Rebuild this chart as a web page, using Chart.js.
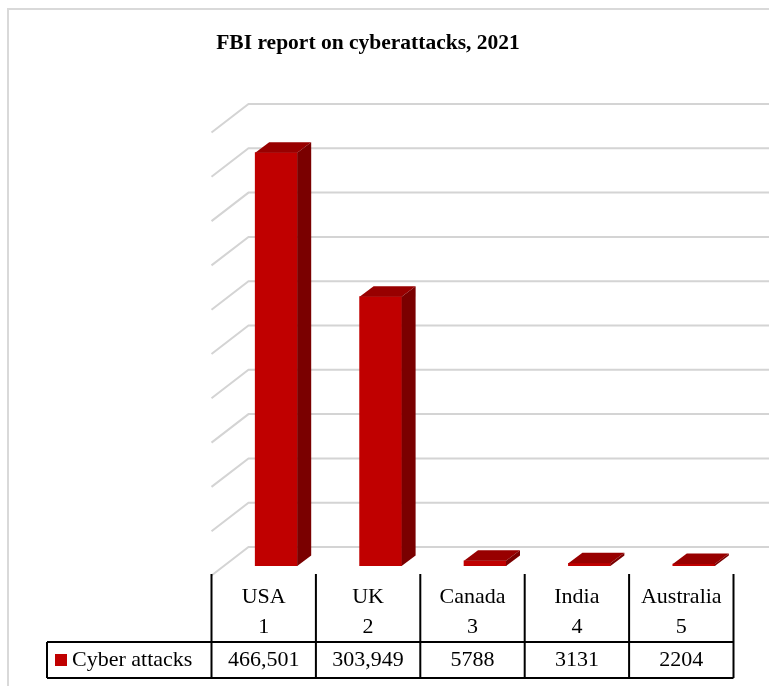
<!DOCTYPE html>
<html lang="en">
<head>
  <meta charset="UTF-8">
  <title>FBI report on cyberattacks, 2021</title>
  <script src="https://cdn.jsdelivr.net/npm/chart.js"></script>
  <style>
    body {
      margin: 0;
      background: #ffffff;
    }
    #chart {
      display: block;
    }
  </style>
</head>
<body>
  <canvas id="chart" width="769" height="686"></canvas>

  <script>
    // Data
    const categories = ['USA', 'UK', 'Canada', 'India', 'Australia'];
    const ranks = ['1', '2', '3', '4', '5'];
    const attacks = [466501, 303949, 5788, 3131, 2204];
    const tableValues = ['466,501', '303,949', '5788', '3131', '2204'];
    const seriesName = 'Cyber attacks';
    const chartTitle = 'FBI report on cyberattacks, 2021';

    // Look of the fake 3D
    const FRONT = '#C00000';
    const TOP = '#980000';
    const SIDE = '#7A0000';
    const BAR_DX = 14, BAR_DY = 10.5;      // bar depth
    const FRONT_DX = -12.5, FRONT_DY = 9.5; // front plane, relative to bar faces
    const BACK_DX = 24.5, BACK_DY = -19;    // back wall, relative to bar faces
    const FONT = '"Liberation Serif", "Times New Roman", serif';

    const depthPlugin = {
      id: 'depth3d',
      beforeDraw(chart) {
        const ctx = chart.ctx;
        ctx.save();
        ctx.strokeStyle = '#d9d9d9';
        ctx.lineWidth = 2;
        ctx.beginPath();
        ctx.moveTo(8, 686);
        ctx.lineTo(8, 9);
        ctx.lineTo(769, 9);
        ctx.stroke();
        ctx.restore();
      },
      beforeDatasetsDraw(chart) {
        const { ctx, chartArea, scales: { y } } = chart;
        ctx.save();
        ctx.strokeStyle = '#d4d4d4';
        ctx.lineWidth = 2;
        y.ticks.forEach(t => {
          const py = y.getPixelForValue(t.value);
          ctx.beginPath();
          ctx.moveTo(chartArea.left + FRONT_DX, py + FRONT_DY);
          ctx.lineTo(chartArea.left + BACK_DX, py + BACK_DY);
          ctx.lineTo(chartArea.right + BACK_DX, py + BACK_DY);
          ctx.stroke();
        });
        ctx.restore();
      },
      afterDatasetsDraw(chart) {
        const ctx = chart.ctx;
        const meta = chart.getDatasetMeta(0);
        ctx.save();
        meta.data.forEach(bar => {
          const { x, y, base, width } = bar.getProps(['x', 'y', 'base', 'width'], true);
          const x0 = x - width / 2, x1 = x + width / 2;
          // top face
          ctx.fillStyle = TOP;
          ctx.beginPath();
          ctx.moveTo(x0, y);
          ctx.lineTo(x1, y);
          ctx.lineTo(x1 + BAR_DX, y - BAR_DY);
          ctx.lineTo(x0 + BAR_DX, y - BAR_DY);
          ctx.closePath();
          ctx.fill();
          // right face
          ctx.fillStyle = SIDE;
          ctx.beginPath();
          ctx.moveTo(x1, y);
          ctx.lineTo(x1 + BAR_DX, y - BAR_DY);
          ctx.lineTo(x1 + BAR_DX, base - BAR_DY);
          ctx.lineTo(x1, base);
          ctx.closePath();
          ctx.fill();
        });
        ctx.restore();
      },
      afterDraw(chart) {
        const { ctx, scales: { x } } = chart;
        const colW = x.getPixelForValue(1) - x.getPixelForValue(0);
        const left = x.getPixelForValue(0) - colW / 2 + FRONT_DX;
        const right = left + colW * categories.length;

        ctx.save();
        // title
        ctx.fillStyle = '#000';
        ctx.textAlign = 'center';
        ctx.textBaseline = 'middle';
        ctx.font = 'bold 21.5px ' + FONT;
        ctx.fillText(chartTitle, 368, 43);

        // data table lines
        ctx.strokeStyle = '#000';
        ctx.lineWidth = 2;
        ctx.beginPath();
        for (let i = 0; i <= categories.length; i++) {
          const px = left + i * colW;
          ctx.moveTo(px, 574);
          ctx.lineTo(px, 678);
        }
        ctx.moveTo(47, 642);
        ctx.lineTo(right, 642);
        ctx.moveTo(47, 678);
        ctx.lineTo(right, 678);
        ctx.moveTo(47, 642);
        ctx.lineTo(47, 678);
        ctx.stroke();

        // table text
        ctx.font = '22px ' + FONT;
        categories.forEach((c, i) => {
          const cx = left + (i + 0.5) * colW;
          ctx.fillText(c, cx, 597);
          ctx.fillText(ranks[i], cx, 627);
          ctx.fillText(tableValues[i], cx, 660);
        });

        // legend key
        ctx.fillStyle = FRONT;
        ctx.fillRect(55, 654, 12, 12);
        ctx.fillStyle = '#000';
        ctx.textAlign = 'left';
        ctx.fillText(seriesName, 72, 660);
        ctx.restore();
      }
    };

    new Chart(document.getElementById('chart'), {
      type: 'bar',
      data: {
        labels: categories,
        datasets: [{
          label: seriesName,
          data: attacks,
          backgroundColor: FRONT,
          borderWidth: 0,
          barThickness: 42
        }]
      },
      options: {
        responsive: false,
        animation: false,
        layout: { padding: { left: 224, right: 23, top: 123, bottom: 120 } },
        plugins: {
          legend: { display: false },
          title: { display: false },
          tooltip: { enabled: false }
        },
        scales: {
          x: { display: false },
          y: {
            display: false,
            min: 0,
            max: 500000,
            ticks: { stepSize: 50000 }
          }
        }
      },
      plugins: [depthPlugin]
    });
  </script>
</body>
</html>
